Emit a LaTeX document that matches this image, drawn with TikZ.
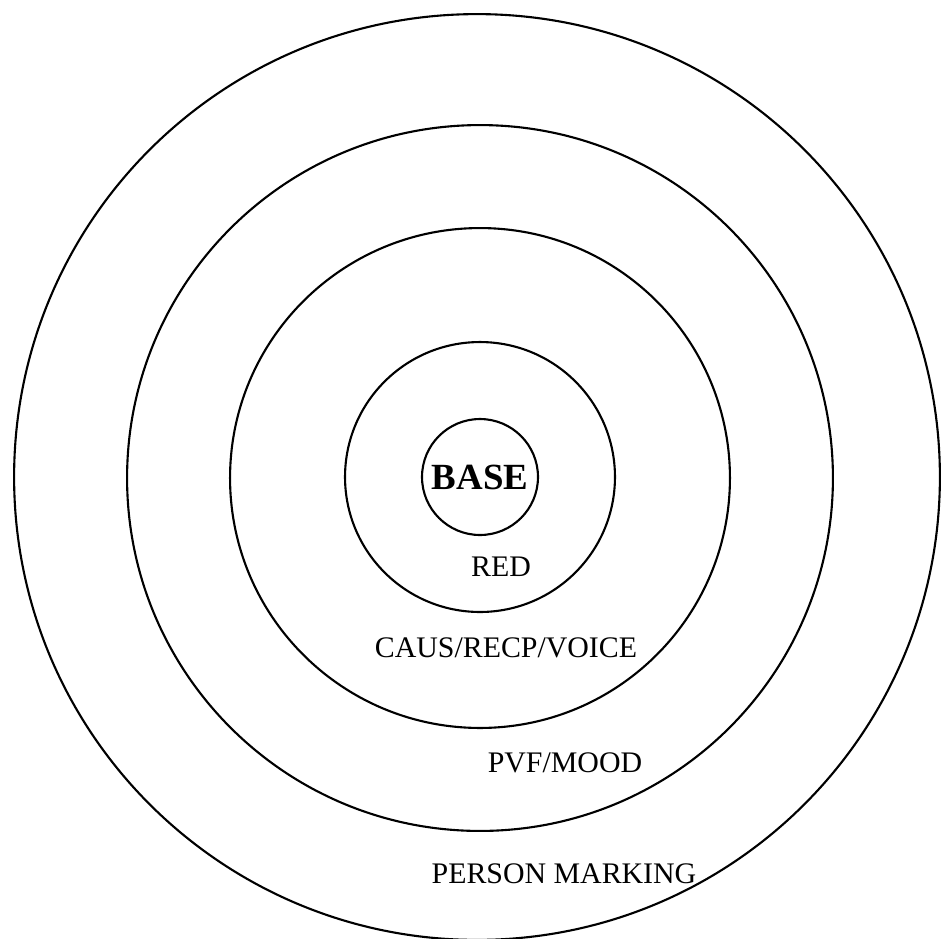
\documentclass[tikz,border=0pt]{standalone}
\usepackage{fontspec}
\setmainfont{Liberation Serif}
\tikzset{
  ring/.style={draw, circle, line width=1.2pt, inner sep=0pt},
  lbl/.style={font=\fontsize{17}{20}\selectfont, inner sep=0pt, anchor=base}
}
\begin{document}
\begin{tikzpicture}[x=0.02cm, y=-0.02cm]
\useasboundingbox (0,0) rectangle (941,938);
% rings, outside in
\node[ring, minimum size=18.52cm] (person) at (477,477) {};
\node[ring, minimum size=14.12cm] (pvf) at (480,478) {};
\node[ring, minimum size=10cm] (caus) at (480,478) {};
\node[ring, minimum size=5.4cm] (red) at (480,477) {};
\node[ring, minimum size=2.32cm, font=\bfseries\fontsize{21}{24}\selectfont] (base) at (480,477) {BASE};
% labels
\node[lbl] (redlbl) at (501,576) {RED};
\node[lbl] (causlbl) at (506,657) {CAUS/RECP/VOICE};
\node[lbl] (pvflbl) at (565,772) {PVF/MOOD};
\node[lbl] (personlbl) at (564,883) {PERSON MARKING};
\end{tikzpicture}
\end{document}
